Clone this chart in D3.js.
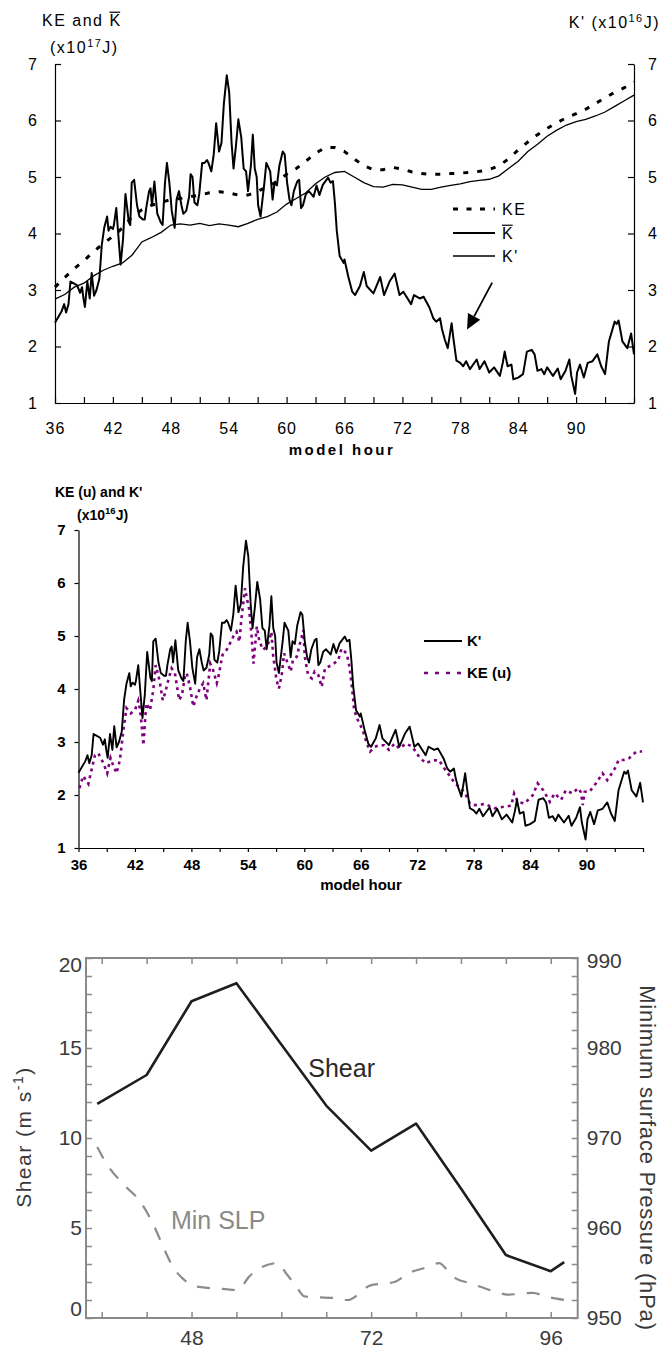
<!DOCTYPE html>
<html>
<head>
<meta charset="utf-8">
<script src="https://cdn.jsdelivr.net/npm/d3@7"></script>
<style>
  body { margin: 0; background: #fff; }
  svg { display: block; font-family: "Liberation Sans", Arial, sans-serif; }
</style>
</head>
<body>
<svg id="chart" width="662" height="1351"></svg>
<script>
// ---------- data ----------
// hourly KE and K-bar (x10^17 J), top panel, left axis
const meanHours = [36, 37, 38, 39, 40, 41, 42, 43, 44, 45, 46, 47, 48, 49, 50, 51, 52, 53, 54, 55,
  56, 57, 58, 59, 60, 61, 62, 63, 64, 65, 66, 67, 68, 69, 70, 71, 72, 73, 74, 75, 76, 77, 78, 79,
  80, 81, 82, 83, 84, 85, 86, 87, 88, 89, 90, 91, 92, 93, 94, 95, 96];
const keValues = [3.05, 3.22, 3.38, 3.52, 3.68, 3.82, 3.95, 4.1, 4.3, 4.42, 4.5, 4.55, 4.6, 4.62,
  4.65, 4.68, 4.72, 4.74, 4.72, 4.68, 4.68, 4.75, 4.82, 4.92, 5.05, 5.15, 5.28, 5.42, 5.52, 5.52,
  5.45, 5.32, 5.2, 5.13, 5.13, 5.17, 5.14, 5.09, 5.06, 5.05, 5.05, 5.06, 5.07, 5.08, 5.1, 5.13,
  5.2, 5.32, 5.48, 5.62, 5.75, 5.86, 5.96, 6.05, 6.12, 6.2, 6.3, 6.4, 6.5, 6.58, 6.68];
const kbarValues = [2.84, 2.92, 3.05, 3.12, 3.25, 3.35, 3.42, 3.48, 3.62, 3.85, 3.93, 4.02, 4.15,
  4.17, 4.15, 4.18, 4.14, 4.17, 4.15, 4.12, 4.18, 4.25, 4.3, 4.38, 4.52, 4.62, 4.72, 4.88, 5.0,
  5.08, 5.1, 5.0, 4.9, 4.83, 4.82, 4.87, 4.86, 4.82, 4.78, 4.78, 4.82, 4.85, 4.88, 4.92, 4.94,
  4.96, 5.02, 5.15, 5.28, 5.45, 5.58, 5.72, 5.83, 5.92, 5.98, 6.02, 6.08, 6.15, 6.25, 6.35, 6.45];

// K' (x10^16 J), top panel right axis and middle panel
const kpHours = [36.0, 36.7, 36.95, 37.15, 37.4, 37.6, 37.9, 38.3, 38.6, 38.8, 38.95, 39.1, 39.35,
  39.6, 39.8, 40.05, 40.3, 40.6, 40.85, 41.1, 41.4, 41.55, 41.75, 42.0, 42.1, 42.35, 42.55, 42.8,
  43.05, 43.3, 43.65, 43.8, 43.95, 44.2, 44.5, 44.75, 45.1, 45.3, 45.45, 45.75, 45.9, 46.05, 46.3,
  46.6, 46.95, 47.15, 47.4, 47.6, 47.85, 48.1, 48.4, 48.6, 48.85, 49.1, 49.3, 49.6, 49.9, 50.05,
  50.25, 50.45, 50.75, 50.95, 51.25, 51.5, 51.75, 51.9, 52.2, 52.45, 52.7, 53.0, 53.25, 53.5, 53.8,
  54.05, 54.3, 54.5, 54.75, 55.0, 55.3, 55.55, 55.8, 56.0, 56.3, 56.5, 56.7, 56.9, 57.05, 57.3,
  57.5, 57.7, 57.9, 58.3, 58.55, 58.75, 59.0, 59.25, 59.6, 59.8, 60.05, 60.3, 60.5, 60.75, 61.1,
  61.3, 61.5, 61.7, 62.0, 62.3, 62.55, 62.8, 63.1, 63.4, 63.75, 64.3, 64.55, 64.8, 65.0, 65.2,
  65.5, 65.9, 66.0, 66.4, 66.8, 67.1, 67.6, 68.0, 68.3, 69.0, 69.7, 70.1, 70.7, 71.2, 71.7, 72.1,
  72.9, 73.2, 73.8, 74.2, 74.8, 75.2, 75.5, 75.9, 76.1, 76.4, 76.7, 77.1, 77.3, 77.6, 78.0, 78.3,
  78.6, 79.0, 79.7, 80.0, 80.5, 81.0, 81.5, 82.1, 82.4, 82.6, 82.9, 83.3, 83.5, 84.0, 84.5, 84.9,
  85.4, 85.7, 86.0, 86.4, 86.7, 87.0, 87.6, 88.1, 88.4, 88.9, 89.3, 89.5, 89.9, 90.1, 90.4, 90.8,
  91.2, 91.7, 92.2, 92.6, 93.0, 93.4, 94.0, 94.2, 94.4, 94.8, 95.3, 95.7, 96.0];
const kpValues = [2.42, 2.63, 2.75, 2.6, 2.75, 3.15, 3.12, 3.08, 2.95, 3.05, 2.85, 2.7, 3.15,
  2.85, 3.3, 2.9, 3.0, 3.2, 3.8, 4.1, 4.3, 4.05, 4.12, 4.08, 4.15, 4.45, 4.0, 3.45,
  3.9, 4.7, 4.2, 4.15, 4.9, 4.95, 4.5, 4.3, 4.25, 4.25, 4.45, 4.75, 4.8, 4.5, 4.92,
  4.35, 4.2, 4.15, 4.9, 5.25, 4.9, 4.4, 4.1, 4.6, 4.75, 4.5, 4.35, 4.4, 4.65, 5.05,
  5.0, 4.55, 4.5, 4.7, 5.25, 5.25, 5.3, 5.25, 5.1, 5.4, 5.95, 5.45, 5.6, 6.3, 6.8,
  6.5, 5.6, 5.15, 5.55, 6.02, 5.7, 5.15, 5.1, 4.75, 5.2, 5.75, 5.15, 5.0, 4.5, 4.3,
  4.6, 4.9, 5.25, 5.1, 4.6, 4.9, 4.85, 5.2, 5.45, 5.4, 4.9, 4.6, 4.5, 4.75, 4.92,
  4.95, 4.45, 4.5, 4.7, 4.75, 4.7, 4.65, 4.85, 4.68, 4.86, 4.99, 4.9, 4.93, 4.55, 4.05,
  3.6, 3.48, 3.54, 3.23, 2.97, 2.91, 3.07, 3.32, 3.07, 2.94, 3.23, 2.91, 3.16, 3.29, 2.91, 2.97,
  2.75, 2.91, 2.85, 2.88, 2.69, 2.5, 2.44, 2.5, 2.31, 2.12, 1.97, 2.41, 2.12, 1.75, 1.71, 1.65,
  1.74, 1.6, 1.77, 1.6, 1.74, 1.54, 1.63, 1.48, 1.71, 1.91, 1.65, 1.68, 1.42, 1.45, 1.51, 1.91,
  1.94, 1.86, 1.57, 1.6, 1.51, 1.63, 1.48, 1.61, 1.42, 1.57, 1.77, 1.48, 1.16, 1.54, 1.68, 1.45,
  1.71, 1.74, 1.86, 1.65, 1.51, 2.09, 2.44, 2.4, 2.46, 2.09, 1.97, 2.23, 1.86];

// KE (u) (x10^16 J), middle panel
const keuHours = [36.1, 36.5, 37.05, 37.3, 37.75, 38.1, 38.65, 39.05, 39.4, 39.7, 40.05, 40.4,
  40.8, 41.1, 41.55, 42.0, 42.35, 42.55, 42.7, 42.9, 43.2, 43.6, 43.95, 44.2, 44.6, 44.95, 45.2,
  45.55, 45.9, 46.25, 46.7, 47.0, 47.3, 47.5, 47.85, 48.2, 48.55, 48.9, 49.25, 49.6, 50.0, 50.3,
  50.7, 50.95, 51.3, 51.75, 52.1, 52.45, 52.8, 53.1, 53.3, 53.7, 53.9, 54.15, 54.4, 54.6, 54.95,
  55.2, 55.6, 56.0, 56.3, 56.5, 56.7, 57.05, 57.3, 57.6, 57.85, 58.1, 58.55, 58.8, 59.2, 59.5,
  59.9, 60.05, 60.4, 60.8, 61.1, 61.5, 61.85, 62.2, 62.9, 63.6, 63.95, 64.5, 64.8, 65.1, 65.3,
  65.7, 66.2, 66.6, 67.0, 67.5, 68.0, 68.5, 69.0, 69.6, 70.1, 70.8, 71.5, 72.2, 72.9, 73.6, 74.3,
  75.0, 75.5, 76.0, 76.6, 77.1, 77.6, 78.1, 79.2, 80.2, 81.3, 82.0, 82.3, 82.7, 83.4, 84.3, 84.8,
  85.4, 86.1, 86.6, 87.3, 87.8, 88.5, 89.1, 89.4, 89.6, 89.8, 90.3, 91.0, 91.7, 92.2, 92.7, 93.1,
  93.4, 93.9, 94.5, 95.3, 95.9];
const keuValues = [2.13, 2.36, 2.21, 2.41, 2.75, 2.79, 2.6, 2.41, 2.7, 2.55, 2.41, 2.66,
  3.26, 3.64, 3.54, 3.6, 3.78, 3.6, 3.35, 2.94, 3.73, 3.6, 3.98, 4.45, 4.17, 3.79, 3.92,
  4.17, 4.39, 4.3, 3.79, 3.89, 4.23, 4.3, 4.04, 3.67, 3.86, 4.01, 4.11, 3.79, 4.48, 4.36,
  4.11, 4.3, 4.64, 4.74, 4.86, 4.99, 5.08, 4.89, 5.3, 5.9, 5.71, 5.49, 4.99, 4.48, 5.18,
  4.92, 4.74, 4.8, 4.92, 5.08, 4.61, 4.17, 4.01, 4.26, 4.67, 4.55, 4.33, 4.55, 4.61, 4.83,
  5.11, 4.61, 4.26, 4.2, 4.33, 4.26, 4.04, 4.39, 4.45, 4.54, 4.76, 4.67, 4.42, 3.98, 3.6,
  3.41, 3.23, 3.0, 2.82, 2.91, 2.94, 2.94, 2.85, 2.97, 2.88, 2.97, 2.91, 2.72, 2.6, 2.65, 2.66,
  2.47, 2.35, 2.22, 2.13, 2.03, 1.84, 1.81, 1.83, 1.75, 1.78, 1.8, 2.03, 1.87, 1.84, 2.0, 2.22,
  2.09, 1.87, 2.03, 1.91, 2.09, 2.03, 2.13, 2.05, 1.81, 2.06, 2.06, 2.22, 2.41, 2.28, 2.41, 2.53,
  2.66, 2.66, 2.69, 2.82, 2.82];

// bottom panel: shear (m/s, left axis) and min SLP (hPa, right axis)
const shearHours = [35.4, 42, 48, 54, 60, 66, 72, 78, 84, 90, 96, 97.8];
const shearValues = [11.9, 13.5, 17.6, 18.6, 15.2, 11.8, 9.3, 10.8, 7.2, 3.5, 2.6, 3.1];
const slpHours = [35.4, 36.6, 39.2, 41.0, 42.6, 44.6, 45.5, 46.8, 48.6, 52.6, 54.2, 55.7, 57.5,
  59.5, 60.6, 62.0, 63.1, 67.3, 68.9, 70.4, 71.8, 75.1, 77.3, 78.9, 81.1, 82.2, 83.3, 85.1, 88.7,
  90.2, 93.6, 95.3, 97.8];
const slpValues = [969.0, 967.2, 964.6, 963.1, 960.9, 957.2, 955.7, 954.4, 953.5, 953.2, 953.1,
  954.6, 955.7, 956.1, 955.0, 953.5, 952.4, 952.2, 952.0, 952.7, 953.6, 954.0, 955.1, 955.5,
  956.1, 955.3, 954.4, 953.9, 952.9, 952.6, 952.8, 952.4, 952.0];

const hourTicks = [36, 39, 42, 45, 48, 51, 54, 57, 60, 63, 66, 69, 72, 75, 78, 81, 84, 87, 90, 93, 96];
const energyTicks = [1, 2, 3, 4, 5, 6, 7];
const bottomHourTicks = [36, 42, 48, 54, 60, 66, 72, 78, 84, 90, 96];
const bottomHourLabels = [48, 72, 96];

const svg = d3.select('#chart');
const zip = (xs, ys) => xs.map((x, i) => [x, ys[i]]);
const hourLabel = d => (d % 6 === 0 && d < 96 ? d : '');

function styleAxis(g, size, weight, spacing) {
  g.attr('font-family', null).attr('font-size', size);
  g.selectAll('text').attr('fill', '#000').attr('font-weight', weight).attr('letter-spacing', spacing);
  g.selectAll('line, path').attr('stroke', '#000').attr('stroke-width', 1.2);
}

// small helper: superscripted unit text like (x10^17J)
function unitText(g, x, y, exp, opts) {
  const t = g.append('text').attr('x', x).attr('y', y)
    .attr('font-size', opts.size).attr('font-weight', opts.weight)
    .attr('letter-spacing', opts.spacing).attr('text-anchor', opts.anchor || 'start');
  t.append('tspan').text(opts.prefix + '(x10');
  t.append('tspan').attr('dy', -6).attr('font-size', opts.size * 0.68).text(exp);
  t.append('tspan').attr('dy', 6).text('J)');
  return t;
}

// K with an overline
function kBar(g, x, y, size, spacing) {
  const t = g.append('text').attr('x', x).attr('y', y).attr('font-size', size)
    .attr('letter-spacing', spacing).text('K');
  const w = t.node().getBBox().width;
  g.append('line').attr('x1', x).attr('x2', x + w - spacing).attr('y1', y - size * 0.86)
    .attr('y2', y - size * 0.86).attr('stroke', '#000').attr('stroke-width', 1.2);
}

// ---------- top panel ----------
const xTop = d3.scaleLinear().domain([36, 96]).range([55, 634]);
const yTop = d3.scaleLinear().domain([1, 7]).range([403, 64]);
const topG = svg.append('g');

topG.append('g').attr('transform', 'translate(0,403)')
  .call(d3.axisBottom(xTop).tickValues(hourTicks).tickFormat(hourLabel)
    .tickSizeInner(-6).tickSizeOuter(0).tickPadding(20))
  .call(g => styleAxis(g, 16, 'normal', 1));
topG.append('g').attr('transform', 'translate(55,0)')
  .call(d3.axisLeft(yTop).tickValues(energyTicks).tickFormat(d3.format('d'))
    .tickSizeInner(-6).tickSizeOuter(0).tickPadding(18))
  .call(g => styleAxis(g, 16, 'normal', 0));
topG.append('g').attr('transform', 'translate(634,0)')
  .call(d3.axisRight(yTop).tickValues(energyTicks).tickFormat(d3.format('d'))
    .tickSizeInner(-6).tickSizeOuter(0).tickPadding(14))
  .call(g => styleAxis(g, 16, 'normal', 0));

const lineTop = d3.line().x(d => xTop(d[0])).y(d => yTop(d[1]));
topG.append('path').datum(zip(meanHours, kbarValues)).attr('d', lineTop)
  .attr('fill', 'none').attr('stroke', '#000').attr('stroke-width', 1.3);
topG.append('path').datum(zip(kpHours, kpValues)).attr('d', lineTop)
  .attr('fill', 'none').attr('stroke', '#000').attr('stroke-width', 2).attr('stroke-linejoin', 'round');
topG.append('path').datum(zip(meanHours, keValues)).attr('d', lineTop)
  .attr('fill', 'none').attr('stroke', '#000').attr('stroke-width', 3).attr('stroke-dasharray', '5,9');

// titles
const t1 = topG.append('text').attr('x', 42).attr('y', 26).attr('font-size', 16)
  .attr('letter-spacing', 1.5).text('KE and');
kBar(topG, 42 + t1.node().getComputedTextLength() + 6, 26, 16, 1.5);
unitText(topG, 50, 53, '17', { size: 16, weight: 'normal', spacing: 1.5, prefix: '' });
unitText(topG, 660, 28, '16', { size: 16, weight: 'normal', spacing: 1.5, prefix: "K' ", anchor: 'end' });
topG.append('text').attr('x', 342).attr('y', 455).attr('text-anchor', 'middle')
  .attr('font-size', 15).attr('font-weight', 'bold').attr('letter-spacing', 2.5).text('model hour');

// legend
const legTop = [
  { y: 209, dash: '5,8.5', width: 3, label: 'KE' },
  { y: 233, dash: null, width: 1.8, label: 'KBAR' },
  { y: 256, dash: null, width: 1.5, label: "K'" }
];
legTop.forEach(d => {
  topG.append('line').attr('x1', 453).attr('x2', 495).attr('y1', d.y).attr('y2', d.y)
    .attr('stroke', '#000').attr('stroke-width', d.width).attr('stroke-dasharray', d.dash);
  if (d.label === 'KBAR') {
    kBar(topG, 502, d.y + 6, 16, 1.5);
  } else {
    topG.append('text').attr('x', 502).attr('y', d.y + 6).attr('font-size', 16)
      .attr('letter-spacing', 1.5).text(d.label);
  }
});

// arrow pointing at the K' drop
const arrowFrom = [81.3, 3.13];
const arrowTo = [78.7, 2.3];
const ax0 = xTop(arrowFrom[0]), ay0 = yTop(arrowFrom[1]);
const ax1 = xTop(arrowTo[0]), ay1 = yTop(arrowTo[1]);
const len = Math.hypot(ax1 - ax0, ay1 - ay0);
const ux = (ax1 - ax0) / len, uy = (ay1 - ay0) / len;
const headLen = 15, headHalf = 7;
const bx = ax1 - ux * headLen, by = ay1 - uy * headLen;
topG.append('line').attr('x1', ax0).attr('y1', ay0).attr('x2', bx).attr('y2', by)
  .attr('stroke', '#000').attr('stroke-width', 1.8);
topG.append('polygon')
  .attr('points', [[ax1, ay1], [bx - uy * headHalf, by + ux * headHalf], [bx + uy * headHalf, by - ux * headHalf]].join(' '))
  .attr('fill', '#000');

// ---------- middle panel ----------
const xMid = d3.scaleLinear().domain([36, 96]).range([78.5, 643]);
const yMid = d3.scaleLinear().domain([1, 7]).range([848, 530]);
const midG = svg.append('g');

midG.append('g').attr('transform', 'translate(0,848)')
  .call(d3.axisBottom(xMid).tickValues(hourTicks).tickFormat(hourLabel)
    .tickSizeInner(4).tickSizeOuter(0).tickPadding(7))
  .call(g => styleAxis(g, 15, 'bold', 0));
midG.append('g').attr('transform', 'translate(78.5,0)')
  .call(d3.axisLeft(yMid).tickValues(energyTicks).tickFormat(d3.format('d'))
    .tickSizeInner(4).tickSizeOuter(0).tickPadding(9))
  .call(g => styleAxis(g, 15, 'bold', 0));

const lineMid = d3.line().x(d => xMid(d[0])).y(d => yMid(d[1]));
midG.append('path').datum(zip(keuHours, keuValues)).attr('d', lineMid)
  .attr('fill', 'none').attr('stroke', '#800080').attr('stroke-width', 2.6).attr('stroke-dasharray', '3,4');
midG.append('path').datum(zip(kpHours, kpValues)).attr('d', lineMid)
  .attr('fill', 'none').attr('stroke', '#000').attr('stroke-width', 1.9).attr('stroke-linejoin', 'round');

midG.append('text').attr('x', 55).attr('y', 497).attr('font-size', 14).attr('font-weight', 'bold')
  .text("KE (u) and K'");
unitText(midG, 77, 520, '16', { size: 14, weight: 'bold', spacing: 0, prefix: '' });
midG.append('text').attr('x', 361).attr('y', 890).attr('text-anchor', 'middle')
  .attr('font-size', 15).attr('font-weight', 'bold').text('model hour');

const legMid = [
  { y: 641, color: '#000', dash: null, width: 1.8, label: "K'" },
  { y: 673, color: '#800080', dash: '4,7', width: 2.6, label: 'KE (u)' }
];
legMid.forEach(d => {
  midG.append('line').attr('x1', 424).attr('x2', 462).attr('y1', d.y).attr('y2', d.y)
    .attr('stroke', d.color).attr('stroke-width', d.width).attr('stroke-dasharray', d.dash);
  midG.append('text').attr('x', 467).attr('y', d.y + 5).attr('font-size', 15)
    .attr('font-weight', 'bold').text(d.label);
});

// ---------- bottom panel ----------
const xBot = d3.scaleLinear().domain([33.9, 99.6]).range([86, 577.7]);
const yShear = d3.scaleLinear().domain([0, 20]).range([1318, 958]);
const ySlp = d3.scaleLinear().domain([950, 990]).range([1318, 958]);
const botG = svg.append('g');
const frameColor = '#8a8a8a';
const labelColor = '#3a3a3a';

function styleBot(g) {
  g.attr('font-family', null).attr('font-size', 21);
  g.selectAll('text').attr('fill', labelColor);
  g.selectAll('line').attr('stroke', frameColor).attr('stroke-width', 1.5);
  g.select('.domain').remove();
}

botG.append('g').attr('transform', 'translate(0,1318)')
  .call(d3.axisBottom(xBot).tickValues(bottomHourTicks)
    .tickFormat(d => (bottomHourLabels.includes(d) ? d : '')).tickSizeInner(-6).tickPadding(12))
  .call(styleBot);
botG.append('g').attr('transform', 'translate(0,958)')
  .call(d3.axisTop(xBot).tickValues(bottomHourTicks).tickFormat('').tickSizeInner(-6))
  .call(styleBot);
botG.append('g').attr('transform', 'translate(86,0)')
  .call(d3.axisLeft(yShear).ticks(20).tickFormat(d => (d % 5 === 0 ? d : ''))
    .tickSizeInner(-6).tickPadding(4))
  .call(styleBot)
  .call(g => g.selectAll('.tick text')
    .attr('dy', d => (d === 0 ? '-0.1em' : d === 20 ? '0.65em' : '0.32em')));
botG.append('g').attr('transform', 'translate(577.7,0)')
  .call(d3.axisRight(ySlp).ticks(20).tickFormat(d => (d % 10 === 0 ? d : ''))
    .tickSizeInner(-6).tickPadding(9))
  .call(styleBot)
  .call(g => g.selectAll('.tick text').attr('dy', d => (d === 990 ? '0.45em' : '0.32em')));

botG.append('rect').attr('x', 86).attr('y', 958).attr('width', 577.7 - 86).attr('height', 360)
  .attr('fill', 'none').attr('stroke', frameColor).attr('stroke-width', 2);

botG.append('path').datum(zip(slpHours, slpValues))
  .attr('d', d3.line().x(d => xBot(d[0])).y(d => ySlp(d[1])).curve(d3.curveMonotoneX))
  .attr('fill', 'none').attr('stroke', '#8c8c8c').attr('stroke-width', 2.2).attr('stroke-dasharray', '13,12');
botG.append('path').datum(zip(shearHours, shearValues))
  .attr('d', d3.line().x(d => xBot(d[0])).y(d => yShear(d[1])))
  .attr('fill', 'none').attr('stroke', '#1e1e1e').attr('stroke-width', 2.6).attr('stroke-linejoin', 'round');

botG.append('text').attr('x', xBot(63.6)).attr('y', yShear(13.9) + 9).attr('font-size', 25)
  .attr('fill', '#2a2a2a').text('Shear');
botG.append('text').attr('x', xBot(45.25)).attr('y', ySlp(960.9) + 9).attr('font-size', 25)
  .attr('fill', '#8a8a8a').text('Min SLP');

const shearTitle = botG.append('text').attr('transform', 'translate(31,1137) rotate(-90)')
  .attr('text-anchor', 'middle').attr('font-size', 21).attr('fill', labelColor)
  .attr('letter-spacing', 1.5);
shearTitle.append('tspan').text('Shear (m s');
shearTitle.append('tspan').attr('dy', -8).attr('font-size', 14).text('-1');
shearTitle.append('tspan').attr('dy', 8).text(')');

botG.append('text').attr('transform', 'translate(640,1158) rotate(90)')
  .attr('text-anchor', 'middle').attr('font-size', 22).attr('fill', labelColor)
  .attr('letter-spacing', 0.8).text('Minimum surface Pressure (hPa)');
</script>
</body>
</html>
